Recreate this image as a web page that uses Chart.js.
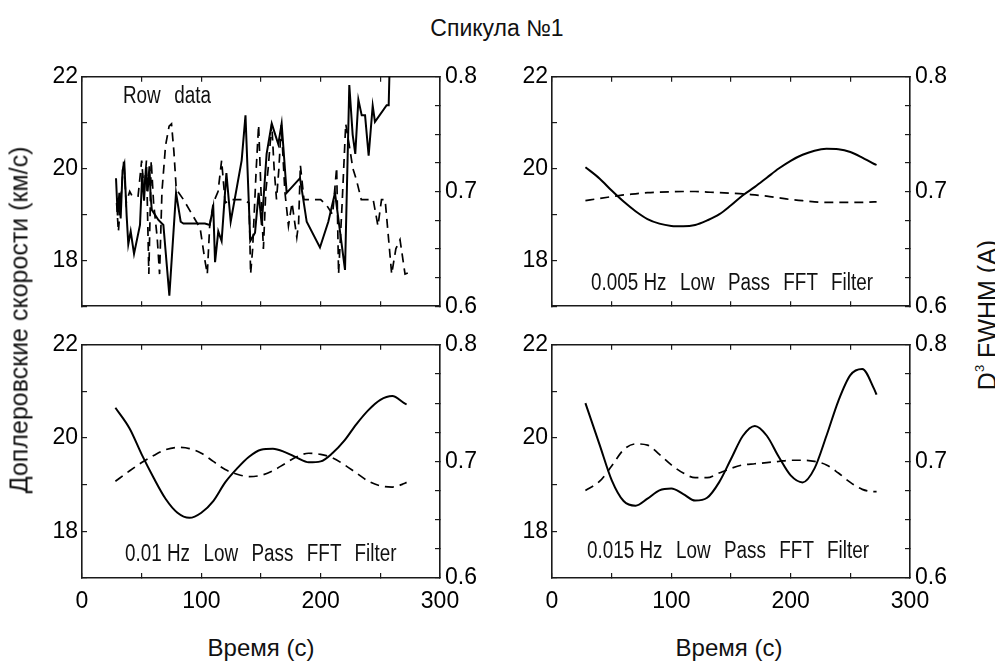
<!DOCTYPE html>
<html>
<head>
<meta charset="utf-8">
<script src="https://cdn.jsdelivr.net/npm/chart.js@4.4.1/dist/chart.umd.min.js"></script>
<style>
html, body { margin: 0; padding: 0; background: #fff; }
#page { position: relative; width: 995px; height: 666px; overflow: hidden;
        font-family: 'Liberation Sans', Arial, sans-serif; color: #111; }
canvas { position: absolute; }
.lbl { position: absolute; white-space: nowrap; line-height: 1; }
.rot { transform: translate(-50%, -50%) rotate(-90deg); }
/* narrow look: regular face squeezed sideways */
.note { position: absolute; white-space: nowrap; line-height: 1; font-size: 23px;
        transform: scaleX(0.82); transform-origin: 0 0; word-spacing: 10px; }
.note span { word-spacing: 0; }
</style>
</head>
<body>
<div id="page">
  <canvas id="pTL" width="478" height="277" style="left:22px;top:53px"></canvas>
  <canvas id="pTR" width="478" height="277" style="left:492px;top:53px"></canvas>
  <canvas id="pBL" width="478" height="307" style="left:22px;top:321px"></canvas>
  <canvas id="pBR" width="478" height="307" style="left:492px;top:321px"></canvas>

  <div class="lbl" style="left:497px;top:17px;font-size:23px;transform:translateX(-50%)">Спикула №1</div>
  <div class="lbl rot" style="left:19px;top:320px;font-size:25px">Доплеровские скорости (км/с)</div>
  <div class="lbl rot" style="left:986px;top:315px;font-size:25px">D<span style="font-size:13px;vertical-align:text-top">3</span> FWHM (A)</div>
  <div class="lbl" style="left:261px;top:636px;font-size:24px;transform:translateX(-50%)">Время (с)</div>
  <div class="lbl" style="left:729px;top:636px;font-size:24px;transform:translateX(-50%)">Время (с)</div>

  <div class="note" style="left:123px;top:84px">Row data</div>
  <div class="note" style="left:591px;top:271px"><span>0.005 Hz</span> Low Pass FFT Filter</div>
  <div class="note" style="left:125px;top:542px"><span>0.01 Hz</span> Low Pass FFT Filter</div>
  <div class="note" style="left:587px;top:539px"><span>0.015 Hz</span> Low Pass FFT Filter</div>
</div>

<script>
// raw data (solid = Doppler velocity, dashed = D3 FWHM)
const rawT = [28.5, 29.9, 31.3, 32.4, 34, 35.5, 37.4, 38.8, 40.8, 43.6, 48.6, 50.5, 52, 53.5, 55,
    56.5, 57.5, 58.5, 64, 68.2, 73.2, 78.8, 82.7, 85, 103, 107, 110, 111.5, 114.2, 117, 121, 124.6,
    133.8, 137, 141, 145, 148, 150.6, 154.7, 159, 164.5, 167.3, 171.5, 182.7, 188.3, 199.4, 206.4,
    212, 220.4, 224, 226.8, 229, 231.6, 234.4, 237.2, 240.2, 243.6, 245.5, 255.3, 257, 258.5];
const rawV = [19.79, 18.98, 19.47, 18.91, 19.96, 20.1, 18.98, 18.35, 18.63, 18.14, 18.77, 19.9, 19.3, 20.0, 19.5,
    20.05, 19.4, 19.1, 18.88, 18.77, 17.23, 19.47, 18.84, 18.8, 18.8, 18.77, 19.16, 17.96, 18.63, 18.42, 19.9, 18.84,
    20.18, 21.16, 18.42, 18.6, 19.47, 18.77, 20.32, 20.98, 20.53, 20.98, 19.47, 19.79, 18.84, 18.28, 18.84,
    19.47, 17.79, 21.82, 20.74, 20.32, 21.5, 21.16, 21.16, 20.28, 21.37, 21.02, 21.38, 21.38, 23.0];
const rawDashT = [29, 30.5, 33, 35, 37, 40, 42, 47, 50, 52, 54, 56, 58, 60, 63, 65, 67, 70, 73, 75,
    77, 79, 85, 99, 103, 105, 107, 110, 114, 117, 120, 125, 135, 140, 141.3, 143, 146, 148, 150, 152,
    154, 156, 159, 161, 163, 165, 167, 170, 173, 176, 180, 181.5, 183, 186, 200, 205, 210, 213.4, 215, 218,
    221, 224, 227, 230, 234, 244, 248, 251, 254, 259.5, 263, 266.5, 270.7, 273];
const rawDashW = [0.690, 0.665, 0.700, 0.727, 0.690, 0.700, 0.696, 0.696, 0.727, 0.700, 0.727, 0.628, 0.727, 0.690, 0.660, 0.628, 0.700, 0.740, 0.757, 0.759,
    0.735, 0.702, 0.693, 0.668, 0.640, 0.628, 0.670, 0.690, 0.700, 0.727, 0.690, 0.693, 0.693, 0.690, 0.628, 0.650, 0.720, 0.758, 0.700, 0.650,
    0.700, 0.720, 0.759, 0.720, 0.693, 0.720, 0.758, 0.700, 0.670, 0.690, 0.660, 0.672, 0.723, 0.693, 0.693, 0.688, 0.680, 0.721, 0.628, 0.690,
    0.759, 0.740, 0.720, 0.710, 0.693, 0.693, 0.670, 0.693, 0.693, 0.628, 0.650, 0.658, 0.628, 0.629];

// filtered curves share one time grid
const tS = [28, 40, 50, 60, 70, 80, 90, 100, 110, 120, 130, 140, 150, 160, 170, 180, 190, 200, 210, 220, 230, 240, 250, 260, 270, 272];
const v005 = [20.03, 19.78, 19.52, 19.28, 19.07, 18.9, 18.8, 18.75, 18.74, 18.77, 18.87, 19.0, 19.2, 19.42, 19.6, 19.8, 20.0, 20.17, 20.3, 20.39, 20.43, 20.42, 20.36, 20.24, 20.1, 20.08];
const w005 = [0.692, 0.694, 0.6955, 0.697, 0.698, 0.699, 0.6995, 0.6998, 0.700, 0.700, 0.6995, 0.699, 0.6985, 0.698, 0.697, 0.696, 0.6945, 0.693, 0.692, 0.691, 0.6905, 0.6905, 0.6905, 0.6905, 0.691, 0.691];
const v010 = [20.65, 20.2, 19.65, 19.15, 18.7, 18.4, 18.29, 18.4, 18.65, 19.05, 19.35, 19.6, 19.75, 19.77, 19.7, 19.58, 19.48, 19.5, 19.68, 19.95, 20.3, 20.6, 20.82, 20.9, 20.75, 20.72];
const w010 = [0.683, 0.692, 0.699, 0.705, 0.710, 0.712, 0.711, 0.707, 0.700, 0.693, 0.689, 0.687, 0.688, 0.692, 0.698, 0.704, 0.707, 0.706, 0.703, 0.697, 0.690, 0.683, 0.679, 0.678, 0.681, 0.682];
const v015 = [20.75, 19.85, 19.1, 18.65, 18.55, 18.7, 18.88, 18.92, 18.8, 18.66, 18.72, 19.05, 19.55, 20.05, 20.26, 20.05, 19.6, 19.2, 19.05, 19.35, 20.05, 20.8, 21.35, 21.48, 21.05, 20.93];
const w015 = [0.675, 0.683, 0.696, 0.710, 0.715, 0.714, 0.706, 0.697, 0.690, 0.686, 0.686, 0.690, 0.694, 0.697, 0.698, 0.699, 0.700, 0.701, 0.701, 0.700, 0.697, 0.690, 0.682, 0.676, 0.674, 0.674];

const TICK_FONT = { family: "'Liberation Sans', Arial, sans-serif", size: 23 };
const INK = '#1a1a1a';

const pts = (xs, ys) => xs.map((x, i) => ({ x: x, y: ys[i] }));

function frameGrid() {
    return { drawOnChartArea: false, color: INK, lineWidth: 1.2, tickLength: -5 };
}
function frameBorder() {
    return { color: INK, width: 1.6 };
}

function panel(id, solid, dashed, smooth, showX) {
    const line = {
        borderColor: '#000', pointRadius: 0, fill: false,
        cubicInterpolationMode: smooth ? 'monotone' : 'default', tension: 0
    };
    new Chart(document.getElementById(id), {
        type: 'line',
        data: {
            datasets: [
                Object.assign({ data: solid, yAxisID: 'y', borderWidth: 2 }, line),
                Object.assign({ data: dashed, yAxisID: 'y1', borderWidth: 1.7, borderDash: [9, 6] }, line)
            ]
        },
        options: {
            responsive: false,
            animation: false,
            devicePixelRatio: 1,
            layout: { padding: { top: 20, left: 0, right: 0, bottom: 0 } },
            plugins: { legend: { display: false }, tooltip: { enabled: false } },
            scales: {
                x: {
                    type: 'linear', position: 'bottom', min: 0, max: 300,
                    border: frameBorder(), grid: frameGrid(),
                    ticks: {
                        stepSize: 50, autoSkip: false, maxRotation: 0, color: '#000', font: TICK_FONT, padding: 15,
                        callback: v => (showX && v % 100 === 0) ? v : ''
                    },
                    afterFit: s => { s.height = showX ? 50 : 20; }
                },
                xTop: {
                    type: 'linear', position: 'top', display: true, min: 0, max: 300,
                    border: frameBorder(), grid: frameGrid(),
                    ticks: { stepSize: 50, autoSkip: false, callback: () => '' },
                    afterFit: s => { s.height = 0; }
                },
                y: {
                    position: 'left', min: 17, max: 22,
                    border: frameBorder(), grid: frameGrid(),
                    ticks: {
                        stepSize: 1, autoSkip: false, color: '#000', font: TICK_FONT, padding: 9,
                        callback: v => v % 2 === 0 ? v : ''
                    },
                    afterFit: s => { s.width = 60; }
                },
                y1: {
                    position: 'right', min: 0.6, max: 0.8,
                    border: frameBorder(), grid: frameGrid(),
                    ticks: {
                        stepSize: 0.025, autoSkip: false, color: '#000', font: TICK_FONT, padding: 10,
                        callback: v => Math.abs(v * 10 - Math.round(v * 10)) < 1e-6 ? v.toFixed(1) : ''
                    },
                    afterFit: s => { s.width = 60; }
                }
            }
        }
    });
}

panel('pTL', pts(rawT, rawV), pts(rawDashT, rawDashW), false, false);
panel('pTR', pts(tS, v005), pts(tS, w005), true, false);
panel('pBL', pts(tS, v010), pts(tS, w010), true, true);
panel('pBR', pts(tS, v015), pts(tS, w015), true, true);
</script>
</body>
</html>
